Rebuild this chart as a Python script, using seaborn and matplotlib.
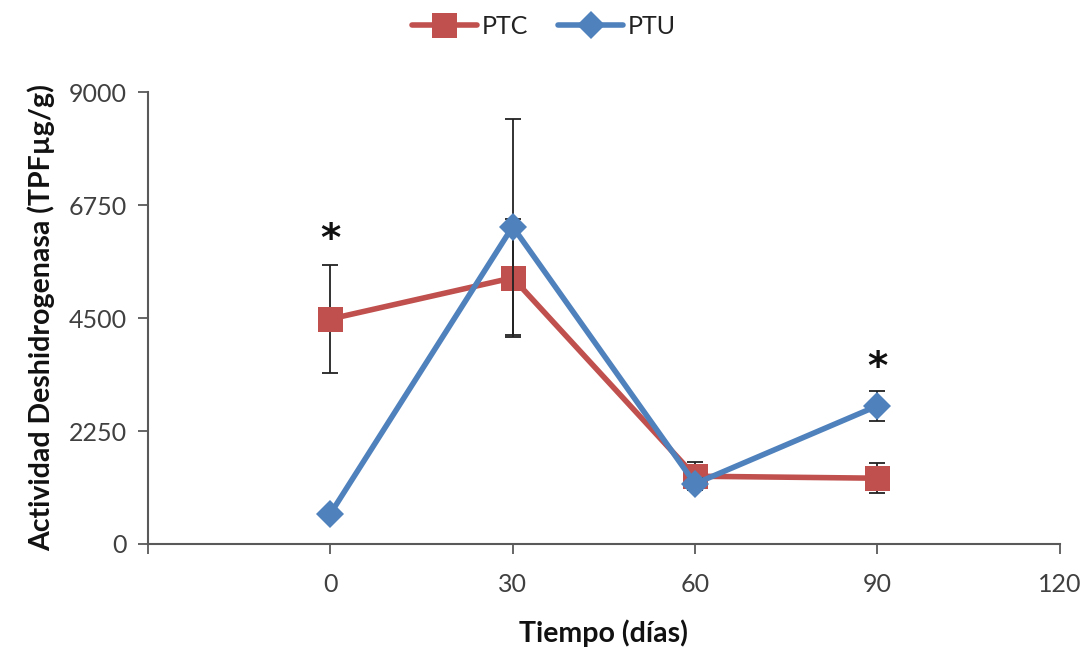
import matplotlib
matplotlib.use("Agg")
import matplotlib.pyplot as plt
import seaborn as sns
import pandas as pd
import numpy as np

dias = [0, 30, 60, 90]
ptc = [4480, 5300, 1350, 1310]
ptc_err = [1085, 1170, 280, 300]
ptu = [600, 6320, 1200, 2750]
ptu_err = [0, 2150, 120, 300]
x_ticks = [-30, 0, 30, 60, 90, 120]
x_labels = ["", "0", "30", "60", "90", "120"]
y_ticks = [0, 2250, 4500, 6750, 9000]
asteriscos_x = [0, 90]
asteriscos_y = [6050, 3500]

sns.set_theme(style="white")
plt.rcParams['font.family'] = ['Lato', 'DejaVu Sans']

df = pd.DataFrame({
    "dia": dias * 2,
    "valor": ptc + ptu,
    "grupo": ["PTC"] * 4 + ["PTU"] * 4,
})

red = "#C0504D"
blue = "#4F81BD"

fig = plt.figure(figsize=(10.88, 6.48), dpi=100)
ax = fig.add_axes([0.136, 0.1605, 0.838, 0.6975])

# PTC
ax.errorbar(dias, ptc, yerr=ptc_err, fmt="none", ecolor="#222222", elinewidth=1.3,
            capsize=6, capthick=1.3, zorder=2)
sns.lineplot(data=df[df.grupo == "PTC"], x="dia", y="valor", color=red, marker="s",
             markersize=18, markeredgewidth=0, linewidth=4.0, ax=ax, zorder=3,
             label="PTC", legend=False)
# PTU
ax.errorbar(dias, ptu, yerr=ptu_err, fmt="none", ecolor="#222222", elinewidth=1.3,
            capsize=6, capthick=1.3, zorder=4)
sns.lineplot(data=df[df.grupo == "PTU"], x="dia", y="valor", color=blue, marker="D",
             markersize=14, markeredgewidth=0, linewidth=4.0, ax=ax, zorder=5,
             label="PTU", legend=False)

for xs, ys in zip(asteriscos_x, asteriscos_y):
    ax.text(xs, ys, "*", ha="center", va="center", fontsize=28, fontweight="bold",
            color="#111111", family="DejaVu Sans")

ax.set_xlim(-30, 120)
ax.set_ylim(0, 9000)
ax.set_xticks(x_ticks)
ax.set_xticklabels(x_labels)
ax.set_yticks(y_ticks)
ax.set_yticklabels([str(v) for v in y_ticks])

for s in ["top", "right"]:
    ax.spines[s].set_visible(False)
for s in ["left", "bottom"]:
    ax.spines[s].set_color("#595959")
    ax.spines[s].set_linewidth(1.5)

ax.tick_params(axis="both", which="both", direction="out", length=7, width=1.3,
               color="#595959", labelsize=18, labelcolor="#404040", pad=8,
               bottom=True, left=True)
ax.tick_params(axis="x", pad=14)

ax.set_xlabel("Tiempo (días)", fontsize=20.5, fontweight="bold", color="#111111", labelpad=17)
ax.set_ylabel("Actividad Deshidrogenasa (TPFµg/g)", fontsize=20.5, fontweight="bold",
              color="#111111", labelpad=10)

handles, labels = ax.get_legend_handles_labels()
fig.legend(handles, labels, loc="upper center", bbox_to_anchor=(0.5, 1.012), ncol=2,
           frameon=False, fontsize=18, handlelength=2.6, columnspacing=1.2,
           handletextpad=0.2, labelcolor="#222222")

fig.savefig("out.png", dpi=100)
